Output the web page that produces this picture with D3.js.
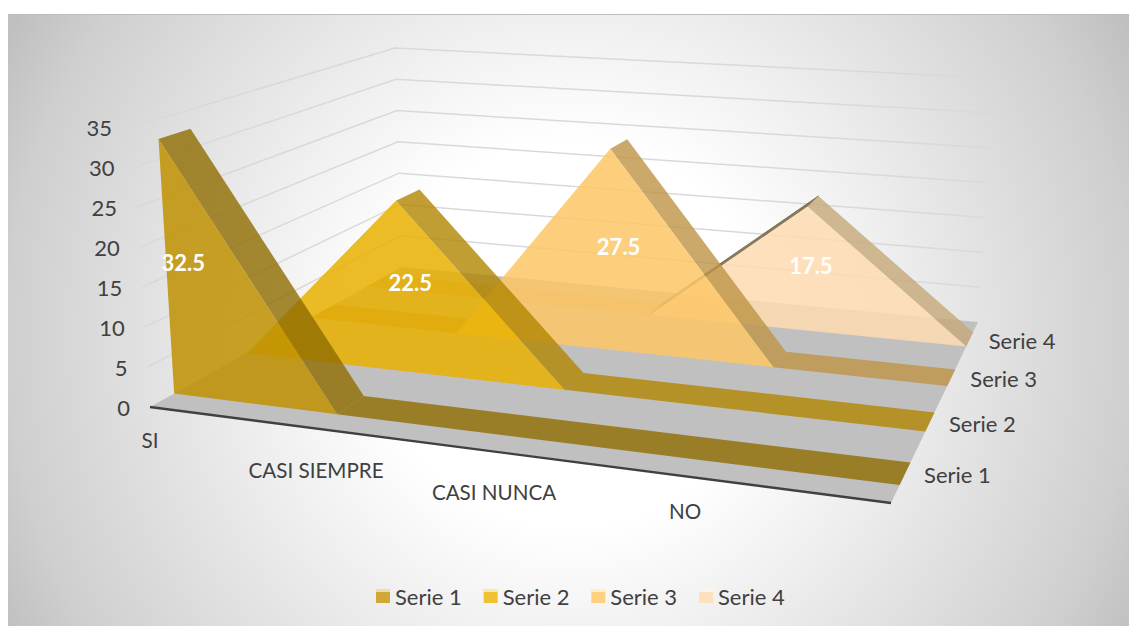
<!DOCTYPE html>
<html>
<head>
<meta charset="utf-8">
<script src="https://cdnjs.cloudflare.com/ajax/libs/d3/7.8.5/d3.min.js"></script>
<style>
  html, body { margin: 0; padding: 0; background: #fff; }
  svg { display: block; }
  text { font-family: Lato, "Open Sans", sans-serif; }
</style>
</head>
<body>
<svg id="chart" width="1129" height="626"></svg>
<script>
// data
const categories = ['SI', 'CASI SIEMPRE', 'CASI NUNCA', 'NO', '']
const seriesNames = ['Serie 1', 'Serie 2', 'Serie 3', 'Serie 4']
const serie1 = [32.5, 0, 0, 0, 0]
const serie2 = [0, 22.5, 0, 0, 0]
const serie3 = [0, 0, 27.5, 0, 0]
const serie4 = [0, 0, 0, 17.5, 0]
const valueTicks = [0, 5, 10, 15, 20, 25, 30, 35]
const allSeries = [serie1, serie2, serie3, serie4]

const faceColors = ['#bf9000', '#e8b000', '#fdc766', '#fedcb0']
const sideColors = ['#8f6c00', '#b08600', '#bd9445', '#c4a878']
const legendColors = ['#d0a835', '#f0c233', '#fed17f', '#fde0bc']
const catLabelDy = [33, 41, 40, 34, 0]

let svg = d3.select('#chart')

// floor and top plane of the box, front-left, front-right, back-right, back-left
const floorQuad = [[150, 407], [891, 503], [978, 322], [402, 267]]
const topQuad = [[132, 127], [906, 181], [993, 78], [395, 48]]

function homography(q) {
  let sx = q[0][0] - q[1][0] + q[2][0] - q[3][0]
  let sy = q[0][1] - q[1][1] + q[2][1] - q[3][1]
  let dx1 = q[1][0] - q[2][0], dx2 = q[3][0] - q[2][0]
  let dy1 = q[1][1] - q[2][1], dy2 = q[3][1] - q[2][1]
  let det = dx1 * dy2 - dx2 * dy1
  let g = (sx * dy2 - dx2 * sy) / det
  let h = (dx1 * sy - sx * dy1) / det
  let a = q[1][0] - q[0][0] + g * q[1][0]
  let b = q[3][0] - q[0][0] + h * q[3][0]
  let d = q[1][1] - q[0][1] + g * q[1][1]
  let e = q[3][1] - q[0][1] + h * q[3][1]
  return function (u, v) {
    let w = g * u + h * v + 1
    return [(a * u + b * v + q[0][0]) / w, (d * u + e * v + q[0][1]) / w]
  }
}

let floorAt = homography(floorQuad)
let topAt = homography(topQuad)

let xScale = d3.scalePoint().domain(d3.range(categories.length)).range([0, 1])
let depth = d3.scaleBand().domain(seriesNames).range([0, 1]).paddingInner(0.6).paddingOuter(0.3)
let yScale = d3.scaleLinear().domain([0, 35]).range([0, 1])

function project(u, d, val) {
  let a = floorAt(u, d), b = topAt(u, d), t = yScale(val)
  return [a[0] + (b[0] - a[0]) * t, a[1] + (b[1] - a[1]) * t]
}

let poly = d3.line()

// background
let defs = svg.append('defs')
let bg = defs.append('radialGradient').attr('id', 'bg')
  .attr('gradientUnits', 'userSpaceOnUse')
  .attr('cx', 570).attr('cy', 335).attr('r', 640)
bg.selectAll('stop')
  .data([[0, '#ffffff'], [0.3, '#ffffff'], [0.5, '#efefef'], [0.88, '#cfcfcf'], [1, '#bfbfbf']])
  .enter().append('stop')
  .attr('offset', d => d[0]).attr('stop-color', d => d[1])

svg.append('rect').attr('x', 8).attr('y', 14).attr('width', 1121).attr('height', 612).attr('fill', 'url(#bg)')
svg.append('line').attr('x1', 8).attr('x2', 1129).attr('y1', 14.5).attr('y2', 14.5).attr('stroke', '#bdbdbd')

// floor
svg.append('path').attr('d', poly(floorQuad) + 'Z').attr('fill', '#c0c0c0')

// gridlines along both walls
let grid = svg.append('g')
grid.selectAll('path')
  .data(valueTicks.filter(d => d > 0))
  .enter().append('path')
  .attr('d', d => poly([project(0, 0, d), project(0, 1, d), project(1, 1, d)]))
  .attr('fill', 'none')
  .attr('stroke', '#d9d9d9')
  .attr('stroke-width', 1.5)

// join runs of equal values so the flat part has no seams
function segments(vals) {
  let out = []
  vals.forEach(function (v, j) {
    if (j === 0) return
    let last = out[out.length - 1]
    if (last && last[0].v === v && last[1].v === v) last[1] = { u: xScale(j), v: v }
    else out.push([{ u: xScale(j - 1), v: vals[j - 1] }, { u: xScale(j), v: v }])
  })
  return out
}

function sideQuad(s, d0, d1) {
  return [project(s[0].u, d0, s[0].v), project(s[1].u, d0, s[1].v), project(s[1].u, d1, s[1].v), project(s[0].u, d1, s[0].v)]
}

// series, back to front
seriesNames.map((name, i) => i).reverse().forEach(function (i) {
  let name = seriesNames[i]
  let d0 = depth(name)
  let d1 = d0 + depth.bandwidth()
  let vals = allSeries[i]
  let g = svg.append('g')

  // slopes turned away from the camera are not drawn
  let up = Math.sign(d3.polygonArea(floorQuad))
  let segs = segments(vals).filter(s => Math.sign(d3.polygonArea(sideQuad(s, d0, d1))) === up)
  g.selectAll('path.side')
    .data(segs)
    .enter().append('path')
    .attr('class', 'side')
    .attr('d', s => poly(sideQuad(s, d0, d1)) + 'Z')
    .attr('fill', s => s[1].v > s[0].v ? '#6b5a3a' : sideColors[i])
    .attr('stroke', s => s[1].v > s[0].v ? '#6b5a3a' : 'none')
    .attr('fill-opacity', 0.8)
    .attr('stroke-opacity', 0.7)

  let front = vals.map((v, j) => project(xScale(j), d0, v))
  front.push(project(1, d0, 0), project(0, d0, 0))
  g.append('path')
    .attr('d', poly(front) + 'Z')
    .attr('fill', faceColors[i])
    .attr('fill-opacity', 0.85)
})

// data labels, centred in the depth of their band
let labelRows = allSeries.map(function (vals, i) {
  let j = vals.findIndex(v => v > 0)
  return { i: i, j: j, v: vals[j] }
})
let labelPos = d => project(xScale(d.j), depth(seriesNames[d.i]) + depth.bandwidth() / 2, d.v / 2)
svg.append('g').selectAll('text')
  .data(labelRows)
  .enter().append('text')
  .attr('x', d => labelPos(d)[0] + (d.j === 0 ? 1 : 0))
  .attr('y', d => labelPos(d)[1] + 4)
  .attr('dy', '0.35em')
  .attr('text-anchor', 'middle')
  .attr('fill', '#fff')
  .attr('font-weight', 700)
  .attr('font-size', 22)
  .text(d => d.v)

// bottom axis line
svg.append('line')
  .attr('x1', floorQuad[0][0]).attr('y1', floorQuad[0][1])
  .attr('x2', floorQuad[1][0]).attr('y2', floorQuad[1][1])
  .attr('stroke', '#404040').attr('stroke-width', 2.4)

// value axis
svg.append('g').selectAll('text')
  .data(valueTicks)
  .enter().append('text')
  .attr('x', d => project(0, 0, d)[0] - 20)
  .attr('y', d => project(0, 0, d)[1])
  .attr('dy', '0.4em')
  .attr('text-anchor', 'end')
  .attr('fill', '#404040')
  .attr('font-size', 22)
  .text(d => d)

// category labels
svg.append('g').selectAll('text')
  .data(categories)
  .enter().append('text')
  .attr('x', (d, j) => project(xScale(j), 0, 0)[0])
  .attr('y', (d, j) => project(xScale(j), 0, 0)[1] + catLabelDy[j])
  .attr('dy', '0.4em')
  .attr('text-anchor', 'middle')
  .attr('fill', '#404040')
  .attr('font-size', 20.6)
  .text(d => d)

// series labels on the depth axis
svg.append('g').selectAll('text')
  .data(seriesNames)
  .enter().append('text')
  .attr('x', d => project(1, depth(d) + depth.bandwidth() / 2, 0)[0] + 19)
  .attr('y', d => project(1, depth(d) + depth.bandwidth() / 2, 0)[1] + 1)
  .attr('dy', '0.4em')
  .attr('fill', '#404040')
  .attr('font-size', 22)
  .text(d => d)

// legend
let legendX = d3.scalePoint().domain(seriesNames).range([376, 699])
let legend = svg.append('g').selectAll('g')
  .data(seriesNames)
  .enter().append('g')
  .attr('transform', d => 'translate(' + legendX(d) + ',589)')
legend.append('rect').attr('width', 14).attr('height', 14).attr('fill', (d, i) => legendColors[i])
legend.append('rect').attr('width', 14).attr('height', 3).attr('fill', '#fff').attr('fill-opacity', 0.6)
legend.append('text')
  .attr('x', 19).attr('y', 7).attr('dy', '0.4em')
  .attr('fill', '#404040').attr('font-size', 22)
  .text(d => d)
</script>
</body>
</html>
